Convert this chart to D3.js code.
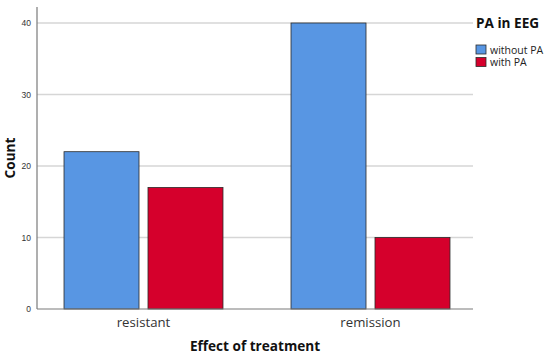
<!DOCTYPE html>
<html>
<head>
<meta charset="utf-8">
<script src="https://cdn.jsdelivr.net/npm/d3@7"></script>
<style>
  html, body { margin: 0; padding: 0; background: #fff; }
  svg { display: block; }
</style>
</head>
<body>
<svg id="chart" width="550" height="358"></svg>
<script>
var categories = ['resistant', 'remission'];
var seriesNames = ['without PA', 'with PA'];
var withoutPA = [22, 40];
var withPA = [17, 10];
var yTicks = [0, 10, 20, 30, 40];

(function () {
  var colors = { 'without PA': '#5896E3', 'with PA': '#D5002C' };

  var svg = d3.select('#chart');
  var left = 37, right = 473, plotTop = 7, bottom = 309;

  var y = d3.scaleLinear().domain([0, 40]).range([bottom, 23]);
  var x0 = d3.scaleBand().domain(categories).range([30, 484]);
  var x1 = d3.scaleBand().domain(seriesNames).range([0, x0.bandwidth()])
    .paddingInner(0.107).paddingOuter(0.405);

  var rows = categories.map(function (c, i) {
    return { cat: c, values: [
      { name: 'without PA', value: withoutPA[i] },
      { name: 'with PA', value: withPA[i] }
    ] };
  });

  // grid
  svg.append('g').selectAll('line')
    .data(yTicks.filter(function (t) { return t > 0; }))
    .enter().append('line')
    .attr('x1', left).attr('x2', right)
    .attr('y1', function (d) { return y(d); })
    .attr('y2', function (d) { return y(d); })
    .attr('stroke', '#d6d6d6')
    .attr('stroke-width', 1.5);

  // bars
  svg.append('g').selectAll('g')
    .data(rows)
    .enter().append('g')
    .attr('transform', function (d) { return 'translate(' + x0(d.cat) + ',0)'; })
    .selectAll('rect')
    .data(function (d) { return d.values; })
    .enter().append('rect')
    .attr('x', function (d) { return x1(d.name); })
    .attr('y', function (d) { return y(d.value); })
    .attr('width', x1.bandwidth())
    .attr('height', function (d) { return y(0) - y(d.value); })
    .attr('fill', function (d) { return colors[d.name]; })
    .attr('stroke', '#2b2b2b')
    .attr('stroke-width', 0.8);

  // axis lines
  svg.append('line').attr('x1', left).attr('x2', left).attr('y1', plotTop).attr('y2', bottom)
    .attr('stroke', '#7a7a7a').attr('stroke-width', 1.2);
  svg.append('line').attr('x1', left).attr('x2', right).attr('y1', bottom).attr('y2', bottom)
    .attr('stroke', '#7a7a7a').attr('stroke-width', 1.2);

  // y tick labels
  svg.append('g').selectAll('text')
    .data(yTicks)
    .enter().append('text')
    .attr('x', 31)
    .attr('y', function (d) { return y(d) + 3; })
    .attr('text-anchor', 'end')
    .attr('font-family', 'Liberation Sans, Arial, sans-serif')
    .attr('font-size', 8.5)
    .attr('fill', '#333')
    .text(function (d) { return d; });

  // x labels
  svg.append('g').selectAll('text')
    .data(categories)
    .enter().append('text')
    .attr('x', function (d) { return x0(d) + x0.bandwidth() / 2; })
    .attr('y', 327)
    .attr('text-anchor', 'middle')
    .attr('font-family', 'Open Sans, sans-serif')
    .attr('font-size', 13.2)
    .attr('fill', '#333')
    .text(function (d) { return d; });

  svg.append('text')
    .attr('x', (left + right) / 2).attr('y', 351)
    .attr('text-anchor', 'middle')
    .attr('font-family', 'Open Sans, sans-serif')
    .attr('font-weight', 'bold')
    .attr('font-size', 13.6)
    .attr('fill', '#111')
    .text('Effect of treatment');

  svg.append('text')
    .attr('transform', 'translate(14.5,' + ((plotTop + bottom) / 2) + ') rotate(-90)')
    .attr('text-anchor', 'middle')
    .attr('font-family', 'Open Sans, sans-serif')
    .attr('font-weight', 'bold')
    .attr('font-size', 13.6)
    .attr('fill', '#111')
    .text('Count');

  // legend
  var legend = svg.append('g').attr('transform', 'translate(476,0)');
  legend.append('text')
    .attr('x', 0).attr('y', 28)
    .attr('font-family', 'Open Sans, sans-serif')
    .attr('font-weight', 'bold')
    .attr('font-size', 13.6)
    .attr('fill', '#111')
    .text('PA in EEG');

  var item = legend.selectAll('g.item')
    .data(seriesNames)
    .enter().append('g')
    .attr('class', 'item')
    .attr('transform', function (d, i) { return 'translate(0,' + (45 + i * 12.5) + ')'; });
  item.append('rect')
    .attr('width', 10).attr('height', 9)
    .attr('fill', function (d) { return colors[d]; })
    .attr('stroke', '#2b2b2b').attr('stroke-width', 0.8);
  item.append('text')
    .attr('x', 14).attr('y', 8.5)
    .attr('font-family', 'Open Sans, sans-serif')
    .attr('font-size', 10.5)
    .attr('fill', '#222')
    .text(function (d) { return d; });
})();
</script>
</body>
</html>
